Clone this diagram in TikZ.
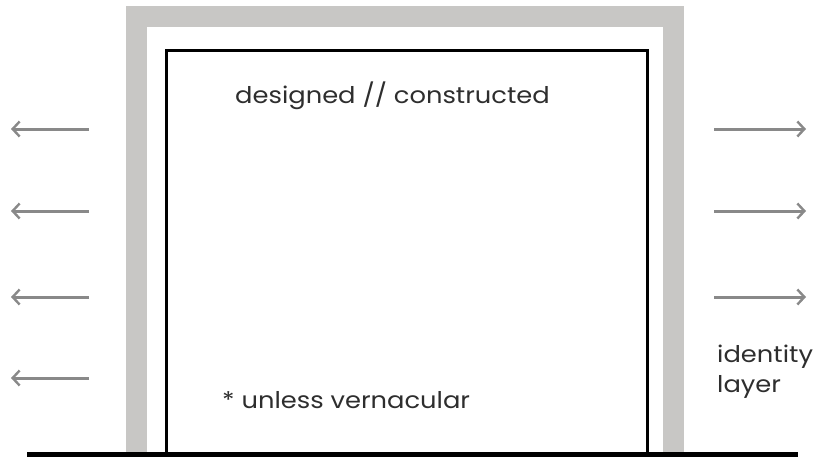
\documentclass[tikz,border=0pt]{standalone}
\usepackage{fontspec}
\setmainfont[FakeStretch=1.12]{Poppins}
\usetikzlibrary{arrows.meta}
\definecolor{wallgray}{HTML}{C8C7C5}
\definecolor{arrowgray}{HTML}{898989}
\definecolor{inkgray}{HTML}{2E2E2E}
\tikzset{
  wall/.style={fill=wallgray, draw=none},
  flow/.style={draw=arrowgray, line width=3pt, -{Straight Barb[length=7pt,width=15pt,line width=2.4pt]}},
  caption/.style={text=inkgray, font=\fontsize{23}{27}\selectfont, inner sep=0pt},
}
\begin{document}
\begin{tikzpicture}[x=1pt,y=-1pt]
  \useasboundingbox (0,0) rectangle (819,456);
  % outer grey frame (open at the bottom)
  \fill[wall] (126,6) rectangle (684,452);
  \fill[white] (147,27) rectangle (663,452);
  % inner black frame
  \draw[line width=3pt, line join=miter] (166,453) -- (166,50) -- (647,50) -- (647,453);
  % ground line
  \draw[line width=4.5pt] (27,454.5) -- (798,454.5);
  % labels
  \node[caption, anchor=base west] (top) at (235,103) {designed // constructed};
  \node[caption, anchor=base west] (note) at (222,408) {* unless vernacular};
  \node[caption, anchor=base west] (id) at (717,362) {identity};
  \node[caption, anchor=base west] (layer) at (717,392) {layer};
  % outward arrows
  \coordinate (l1s) at (89,129); \coordinate (l1e) at (11,129);
  \coordinate (l2s) at (89,211); \coordinate (l2e) at (11,211);
  \coordinate (l3s) at (89,297); \coordinate (l3e) at (11,297);
  \coordinate (l4s) at (89,378); \coordinate (l4e) at (11,378);
  \coordinate (r1s) at (714,129); \coordinate (r1e) at (806,129);
  \coordinate (r2s) at (714,211); \coordinate (r2e) at (806,211);
  \coordinate (r3s) at (714,297); \coordinate (r3e) at (806,297);
  \foreach \a in {l1,l2,l3,l4,r1,r2,r3}
    \draw[flow] (\a s) -- (\a e);
\end{tikzpicture}
\end{document}
